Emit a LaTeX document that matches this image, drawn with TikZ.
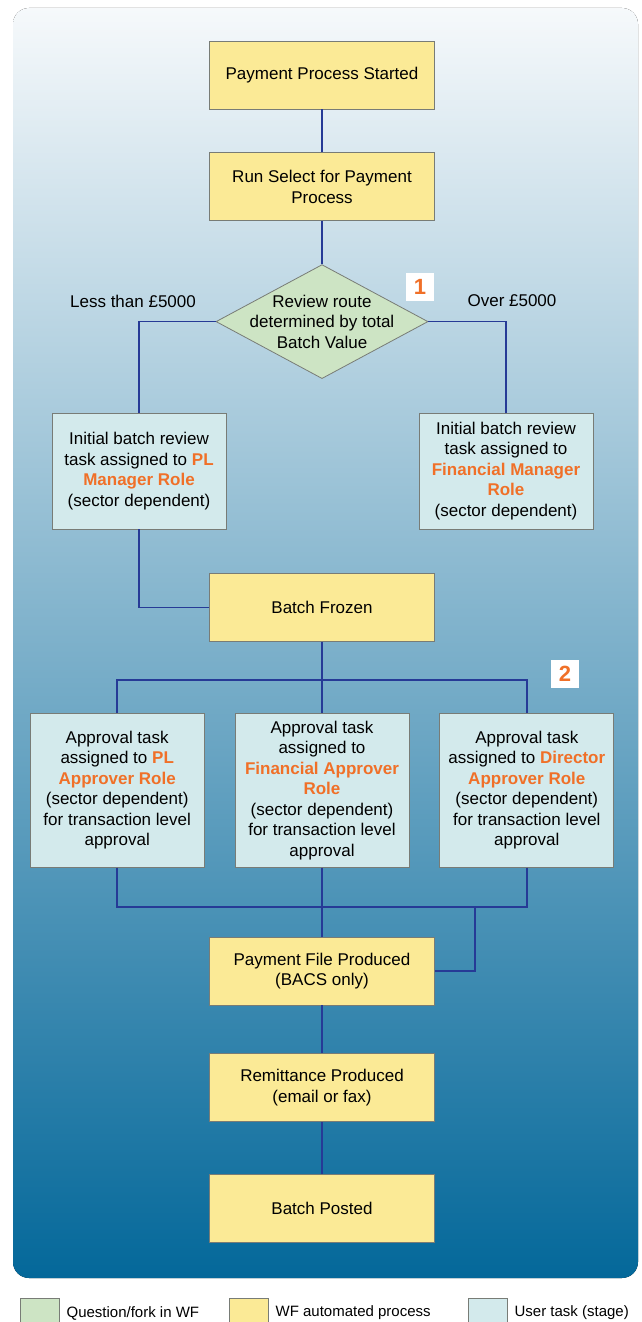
\documentclass[tikz,border=0pt]{standalone}
\usepackage{fontspec}
\setmainfont{Liberation Sans}
\usepackage{tikz}
\usetikzlibrary{arrows,shapes,positioning}
\usepackage{xcolor}
\definecolor{wfyellow}{RGB}{251,234,150}
\definecolor{wfgreen}{RGB}{205,228,196}
\definecolor{wfpale}{RGB}{211,234,236}
\definecolor{wforange}{RGB}{240,112,40}
\definecolor{wfline}{RGB}{38,58,150}
\definecolor{wfedge}{RGB}{120,124,118}
\definecolor{wftop}{RGB}{246,249,251}
\definecolor{wfbottom}{RGB}{4,104,154}
\newcommand{\rolename}[1]{\textcolor{wforange}{\textbf{#1}}}
\tikzstyle{link} = [line width=1.6pt, color=wfline]
\tikzstyle{process} = [rectangle, minimum width=225pt, minimum height=68pt, align=center, draw=wfedge, fill=wfyellow, line width=0.8pt, font=\fontsize{17}{20.5}\selectfont]
\tikzstyle{usertask} = [rectangle, minimum width=174pt, inner sep=0pt, align=center, draw=wfedge, fill=wfpale, line width=0.8pt, font=\fontsize{17}{20.5}\selectfont]
\tikzstyle{decision} = [diamond, minimum width=212pt, minimum height=114pt, inner sep=0pt, draw=wfedge, fill=wfgreen, line width=0.8pt]
\tikzstyle{marker} = [rectangle, minimum size=28pt, inner sep=0pt, fill=white, text=wforange, font=\fontsize{22}{22}\selectfont\bfseries]
\tikzstyle{caption} = [font=\fontsize{17}{20.5}\selectfont]
\tikzstyle{keybox} = [rectangle, minimum width=39pt, minimum height=26pt, draw=wfedge, line width=0.8pt]
\tikzstyle{keytext} = [anchor=west, inner sep=0pt, font=\fontsize{15}{18}\selectfont]

\begin{document}
\begin{tikzpicture}[x=1pt, y=-1pt]
\useasboundingbox (0,0) rectangle (641,1322);
% Background panel
\fill[rounded corners=16pt, top color=wftop, bottom color=wfbottom] (13,8) rectangle (638,1278);

% Main column
\node (start) [process] at (322,75) {Payment Process Started};
\node (select) [process, below=43pt of start] {Run Select for Payment\\Process};
\node (review) [decision, below=43pt of select, label={[caption, align=center]center:Review route\\determined by total\\Batch Value}] {};
\node (frozen) [process, below=194pt of review] {Batch Frozen};
\node (finapp) [usertask, minimum height=154pt, below=71pt of frozen] {Approval task\\assigned to\\\rolename{Financial Approver}\\\rolename{Role}\\(sector dependent)\\for transaction level\\approval};
\node (payfile) [process, below=69pt of finapp] {Payment File Produced\\(BACS only)};
\node (remit) [process, below=48pt of payfile] {Remittance Produced\\(email or fax)};
\node (posted) [process, below=52pt of remit] {Batch Posted};

% Initial review
\node (lowrev) [usertask, minimum height=116pt] at (139,471) {Initial batch review\\task assigned to \rolename{PL}\\\rolename{Manager Role}\\(sector dependent)};
\node (highrev) [usertask, minimum height=116pt] at (506,471) {Initial batch review\\task assigned to\\\rolename{Financial Manager}\\\rolename{Role}\\(sector dependent)};
\node (less) [caption] at (133,301) {Less than £5000};
\node (over) [caption] at (512,301) {Over £5000};

% Approval tasks
\node (plapp) [usertask, minimum height=154pt, left=30pt of finapp] {Approval task\\assigned to \rolename{PL}\\\rolename{Approver Role}\\(sector dependent)\\for transaction level\\approval};
\node (dirapp) [usertask, minimum height=154pt, right=30pt of finapp] {Approval task\\assigned to \rolename{Director}\\\rolename{Approver Role}\\(sector dependent)\\for transaction level\\approval};

% Markers
\node (mark1) [marker] at (420,287) {1};
\node (mark2) [marker] at (565,674) {2};

% Connections
\coordinate (fork) at (322,680);
\coordinate (join) at (322,907);
\coordinate (side) at (475,907);
\draw[link] (start) -- (select);
\draw[link] (select) -- (review);
\draw[link] (review.west) -| (lowrev.north);
\draw[link] (review.east) -| (highrev.north);
\draw[link] (lowrev.south) |- (frozen.west);
\draw[link] (frozen) -- (fork);
\draw[link] (fork) -| (plapp.north);
\draw[link] (fork) -| (dirapp.north);
\draw[link] (fork) -- (finapp);
\draw[link] (plapp.south) |- (join);
\draw[link] (dirapp.south) |- (join);
\draw[link] (finapp) -- (payfile);
\draw[link] (side) |- (payfile.east);
\draw[link] (payfile) -- (remit);
\draw[link] (remit) -- (posted);

% Legend
\node (keyq) [keybox, fill=wfgreen] at (39.5,1311) {};
\node (keyqtext) [keytext, right=7pt of keyq, yshift=-2pt] {Question/fork in WF};
\node (keyp) [keybox, fill=wfyellow] at (248.5,1311) {};
\node (keyptext) [keytext, right=7pt of keyp, yshift=-2pt] {WF automated process};
\node (keyu) [keybox, fill=wfpale] at (487.5,1311) {};
\node (keyutext) [keytext, right=7pt of keyu, yshift=-2pt] {User task (stage)};
\end{tikzpicture}
\end{document}
